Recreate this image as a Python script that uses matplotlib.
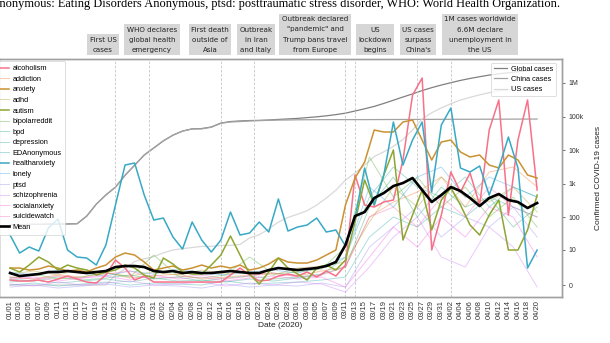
import numpy as np
import pandas as pd
import matplotlib
matplotlib.use('Agg')
import matplotlib.pyplot as plt
import matplotlib.dates as mdates
import seaborn as sns

# daily dates; subreddit activity sampled every 2nd day (main lines) or every 5th day (faint lines)
dates = pd.date_range('2020-01-01', '2020-04-20', freq='D')
days2 = dates[::2]
days5 = dates[::5]

subreddits = ['alcoholism', 'addiction', 'anxiety', 'adhd', 'autism', 'bipolarreddit', 'bpd',
              'depression', 'EDAnonymous', 'healthanxiety', 'lonely', 'ptsd', 'schizophrenia',
              'socialanxiety', 'suicidewatch']
highlight = ['alcoholism', 'anxiety', 'autism', 'healthanxiety']

# activity index (arbitrary units), every 2nd day
alcoholism = [1.7, 1.6, 1.6, 1.7, 1.5, 1.8, 2.1, 1.8, 1.5, 1.4, 2.2, 3.7, 2.9, 1.7, 2.1, 1.5,
              1.5, 1.5, 1.5, 1.5, 1.5, 1.5, 1.5,
              2.2, 2.9, 2.2, 1.6, 1.7, 2.1, 2.3, 2.1, 2.5, 2.0, 2.6, 2.1,
              3.2, 12.2, 9.2, 9.0, 9.5, 9.7, 13.7, 20.2, 21.9, 4.7, 8.2, 12.5, 10.5, 12.4, 9.2,
              16.7, 19.7, 8.2, 15.7, 19.7, 10.7]
anxiety = [2.9, 2.9, 2.7, 2.8, 3.1, 2.9, 2.6, 2.7, 2.5, 2.9, 3.2, 4.0, 4.4, 4.2, 3.5, 2.7,
           2.9, 3.1, 2.7, 2.9, 3.2, 2.9, 3.1, 2.9, 3.2, 2.7, 2.9, 3.3, 3.9, 3.5, 3.4, 3.4,
           3.7, 4.2, 4.7, 9.2, 11.9, 13.5, 16.7, 16.5, 16.5, 17.5, 17.7, 15.7, 13.7, 15.5,
           15.7, 14.5, 14.0, 14.2, 13.2, 12.9, 14.2, 13.7, 12.2, 11.9]
autism = [2.9, 2.5, 3.2, 4.0, 3.5, 2.7, 3.2, 2.9, 2.7, 2.2, 2.5, 2.7, 3.2, 2.9, 2.2, 1.9,
          3.9, 3.3, 2.5, 2.3, 2.3, 3.2, 4.2, 6.1, 4.2, 2.3, 1.3, 2.5, 3.9, 2.9, 2.3, 1.7,
          2.9, 3.2, 2.7, 3.7, 7.5, 11.7, 9.2, 12.2, 14.7, 5.7, 8.2, 10.7, 6.7, 9.7,
          10.9, 9.2, 7.2, 6.2, 8.2, 9.7, 4.7, 4.7, 6.7, 10.2]
healthanxiety = [6.2, 4.4, 5.0, 4.6, 6.9, 7.8, 4.7, 4.0, 3.9, 3.2, 5.2, 9.2, 13.2, 13.4, 10.2, 7.7,
                 7.9, 6.0, 4.8, 7.5, 5.7, 4.5, 5.7, 8.5, 6.2, 6.4, 7.5, 6.5, 9.8, 6.6, 7.0, 7.2,
                 7.9, 6.5, 6.7, 5.1, 7.9, 12.9, 9.2, 12.2, 17.5, 13.2, 15.7, 17.5, 10.5, 17.2,
                 18.9, 12.9, 12.5, 13.1, 10.2, 12.9, 16.0, 12.9, 2.9, 4.7]
mean = [2.4, 2.1, 2.2, 2.3, 2.5, 2.5, 2.6, 2.5, 2.4, 2.5, 2.6, 3.0, 3.1, 3.1, 3.0, 2.6,
        2.5, 2.6, 2.4, 2.5, 2.4, 2.4, 2.5, 2.6, 2.5, 2.4, 2.4, 2.7, 2.9, 2.8, 2.7, 2.8,
        2.9, 3.1, 3.5, 5.2, 8.1, 8.5, 9.9, 10.4, 11.1, 11.4, 11.9, 10.7, 9.5, 10.2,
        11.0, 10.6, 9.9, 9.1, 9.9, 10.3, 9.7, 9.5, 8.9, 9.4]

# faint lines, every 5th day
addiction = [2.0, 1.8, 2.2, 2.0, 2.5, 1.9, 2.1, 2.3, 1.8, 2.0, 2.2, 2.4, 2.1, 2.6, 3.0, 8.0, 9.5, 10.5, 12.0, 9.0, 12.5, 13.0, 11.0]
adhd = [2.3, 2.6, 2.2, 2.8, 2.4, 2.1, 2.5, 2.2, 2.7, 2.3, 2.5, 2.2, 2.9, 3.1, 3.5, 7.5, 11.0, 9.0, 12.0, 10.0, 9.5, 11.0, 8.5]
bipolarreddit = [1.9, 2.3, 1.8, 2.0, 2.4, 2.0, 4.2, 2.1, 1.9, 2.2, 4.0, 2.3, 2.5, 2.8, 5.0, 14.0, 10.0, 12.0, 9.0, 11.0, 8.0, 10.0, 7.0]
bpd = [1.8, 1.6, 2.0, 1.7, 1.9, 2.2, 1.8, 2.0, 1.6, 1.9, 2.1, 1.8, 2.0, 2.3, 3.0, 9.0, 12.0, 8.0, 11.0, 9.0, 10.0, 7.0, 9.0]
depression = [1.5, 1.7, 1.4, 1.6, 1.8, 1.5, 1.9, 1.6, 1.7, 1.5, 1.8, 1.6, 1.9, 2.2, 4.0, 10.0, 13.0, 11.0, 10.0, 12.0, 9.0, 11.0, 10.0]
edanonymous = [1.2, 1.4, 1.1, 1.3, 1.5, 1.2, 1.4, 1.3, 1.2, 1.6, 1.3, 1.4, 1.5, 1.7, 2.0, 6.0, 8.0, 7.0, 9.0, 8.0, 10.0, 9.0, 8.0]
lonely = [2.5, 2.2, 2.7, 2.4, 2.1, 2.6, 2.3, 2.8, 2.4, 2.2, 2.5, 2.7, 2.4, 3.0, 4.0, 11.0, 9.0, 12.0, 13.0, 10.0, 12.0, 11.0, 10.0]
ptsd = [1.0, 1.2, 0.9, 1.1, 1.3, 1.0, 1.2, 1.1, 0.9, 1.3, 1.0, 1.2, 1.1, 1.4, 1.0, 5.0, 7.0, 9.0, 6.0, 8.0, 7.0, 9.0, 6.0]
schizophrenia = [1.3, 1.1, 1.5, 1.2, 1.4, 1.6, 1.2, 1.3, 1.5, 1.1, 1.4, 1.2, 1.5, 1.3, 0.5, 3.0, 6.0, 8.0, 4.0, 3.0, 7.0, 5.0, 1.0]
socialanxiety = [1.8, 2.0, 1.6, 1.9, 2.1, 1.7, 2.2, 1.8, 2.0, 1.6, 1.9, 2.1, 1.8, 2.0, 1.0, 4.0, 7.0, 5.0, 8.0, 6.0, 9.0, 8.0, 4.0]
suicidewatch = [2.0, 1.8, 2.1, 1.9, 2.3, 2.6, 1.9, 2.0, 2.2, 1.8, 2.1, 2.4, 2.0, 2.2, 3.0, 8.0, 9.0, 7.0, 10.0, 8.0, 11.0, 9.0, 8.0]

# confirmed COVID-19 cases, every 2nd day
global_cases = [60, 60, 62, 62, 63, 63, 64, 65, 110, 250, 470, 800, 1800, 3600, 7200, 11700,
                19000, 28000, 37000, 43000, 44000, 49000, 64000, 71000, 74000, 76000, 77000,
                79000, 82000, 85000, 88000, 93000, 98000, 105000, 114000, 126000, 146000,
                170000, 200000, 245000, 305000, 380000, 470000, 590000, 720000, 860000,
                1010000, 1180000, 1350000, 1520000, 1700000, 1850000, 2000000, 2150000,
                2300000, 2450000]
china_cases = [60, 60, 62, 62, 63, 63, 64, 65, 110, 250, 470, 800, 1800, 3600, 7200, 11700,
               19000, 28000, 37000, 43000, 43000, 48000, 63000, 69000, 71000, 74000, 75500,
               77000, 78500, 79000, 80000, 80300, 80600, 80800, 80900, 81000, 81000, 81000,
               81200, 81400, 81600, 81800, 82000, 82200, 82400, 82600, 82800, 82900, 83000,
               83200, 83300, 83500, 83700, 83900, 84000, 84200]
us_cases = [0, 0, 0, 0, 0, 0, 0, 0, 0, 0, 0, 1, 2, 4, 5, 6, 8, 10, 11, 12, 13, 13, 14, 14,
            15, 24, 30, 45, 73, 100, 125, 160, 235, 380, 650, 1300, 2100, 3600, 6500, 9000,
            13000, 21000, 40000, 85000, 130000, 180000, 240000, 310000, 370000, 440000,
            510000, 570000, 620000, 680000, 740000, 790000]

events = ['2020-01-23', '2020-01-30', '2020-02-14', '2020-02-21', '2020-03-11',
          '2020-03-13', '2020-03-26', '2020-04-02']
event_labels = ['First US\ncases', 'WHO declares\nglobal health\nemergency',
                'First death\noutside of\nAsia', 'Outbreak\nin Iran\nand Italy',
                'Outbreak declared\n"pandemic" and\nTrump bans travel\nfrom Europe',
                'US\nlockdown\nbegins', 'US cases\nsurpass\nChina\'s',
                '1M cases worldwide\n6.6M declare\nunemployment in\nthe US']
event_box_x = [103, 152, 210, 256, 315, 375, 418, 480]

series2 = {'alcoholism': alcoholism, 'anxiety': anxiety, 'autism': autism,
           'healthanxiety': healthanxiety}
series5 = {'addiction': addiction, 'adhd': adhd, 'bipolarreddit': bipolarreddit, 'bpd': bpd,
           'depression': depression, 'EDAnonymous': edanonymous, 'lonely': lonely,
           'ptsd': ptsd, 'schizophrenia': schizophrenia, 'socialanxiety': socialanxiety,
           'suicidewatch': suicidewatch}

plt.rcParams['font.family'] = ['Liberation Sans', 'DejaVu Sans']
colors = sns.color_palette('husl', 15)

fig = plt.figure(figsize=(6.1, 3.43), dpi=100)
ax = fig.add_axes([-0.0016, 0.134, 0.923, 0.694])
ax2 = ax.twinx()
ax.set_zorder(ax2.get_zorder() + 1)
ax.patch.set_visible(False)

# covid cases on right axis
fwd = lambda v: np.log10(np.maximum(1 + np.asarray(v, dtype=float), 1e-9))
inv = lambda v: 10 ** np.asarray(v, dtype=float) - 1
ax2.set_yscale('function', functions=(fwd, inv))
ax2.plot(days2, global_cases, color='#808080', lw=0.9, label='Global cases')
ax2.plot(days2, china_cases, color='#a3a3a3', lw=0.9, label='China cases')
ax2.plot(days2, us_cases, color='#d9d9d9', lw=0.9, label='US cases')
ax2.set_ylim(-0.56, 5.1e6)
ticks = [0, 10, 100, 1e3, 1e4, 1e5, 1e6]
ax2.set_yticks(ticks)
ax2.set_yticklabels(['0', '10', '100', '1k', '10k', '100k', '1M'])
ax2.yaxis.set_minor_locator(matplotlib.ticker.NullLocator())
ax2.tick_params(axis='y', labelsize=5, length=2.5, width=0.6, color='#555555', pad=2,
                labelcolor='#333333')
ax2.set_ylabel('Confirmed COVID-19 cases', fontsize=6, color='#222222', labelpad=8)

for e in events:
    ax.axvline(pd.Timestamp(e), color='#c4c4c4', lw=0.6, ls=(0, (3, 2)), zorder=0)

handles = []
for i, name in enumerate(subreddits):
    if name in highlight:
        h, = ax.plot(days2, series2[name], color=colors[i], lw=1.1, zorder=3, label=name)
    else:
        h, = ax.plot(days5, series5[name], color=colors[i], lw=0.7, alpha=0.4, zorder=2,
                     label=name)
    handles.append(h)
h, = ax.plot(days2, mean, color='black', lw=1.9, zorder=5, label='Mean')
handles.append(h)

x0 = mdates.date2num(dates[0])
ax.set_xlim(x0 - 2.3, x0 + 115.2)
ax.set_ylim(0, 23.8)
ax.set_yticks([])
ax.set_xticks(dates[::2])
ax.set_xticklabels([d.strftime('%m/%d') for d in dates[::2]], rotation=90)
ax.tick_params(axis='x', labelsize=5.5, length=0, pad=2, labelcolor='#333333')
ax.set_xlabel('Date (2020)', fontsize=6, color='#222222', labelpad=2)

for a in (ax, ax2):
    for s in a.spines.values():
        s.set_color('#a0a0a0')
        s.set_linewidth(1.0)

leg = ax.legend(handles=handles, loc='upper left', bbox_to_anchor=(-0.004, 0.99),
                fontsize=5.3, frameon=True, labelspacing=0.465, handlelength=1.1,
                handletextpad=0.55, borderaxespad=0, borderpad=0.5, fancybox=True)
leg.get_frame().set_edgecolor('#d0d0d0')
leg.get_frame().set_linewidth(0.6)
ax.add_artist(leg)
leg2 = ax.legend(handles=ax2.get_lines(), loc='upper right', bbox_to_anchor=(0.99, 0.985),
                 fontsize=5.3, frameon=True, labelspacing=0.42, handlelength=1.8,
                 handletextpad=0.6, borderaxespad=0, borderpad=0.4, fancybox=True)
leg2.get_frame().set_edgecolor('#d0d0d0')
leg2.get_frame().set_linewidth(0.6)

for lab, bx in zip(event_labels, event_box_x):
    fig.text(bx / 610, 1 - 53 / 343, lab, ha='center', va='bottom', fontsize=5.1,
             family='DejaVu Sans', color='#222222', linespacing=1.85,
             bbox=dict(boxstyle='square,pad=0.35', fc='#d6d6d6', ec='none'))

fig.text(-25.5 / 610, 1 - 7.5 / 343,
         'EDAnonymous: Eating Disorders Anonymous, ptsd: posttraumatic stress disorder, '
         'WHO: World Health Organization.', family='Liberation Serif', fontsize=8.9,
         va='baseline', ha='left', color='black')

fig.savefig('out.png', dpi=100, facecolor='white')
